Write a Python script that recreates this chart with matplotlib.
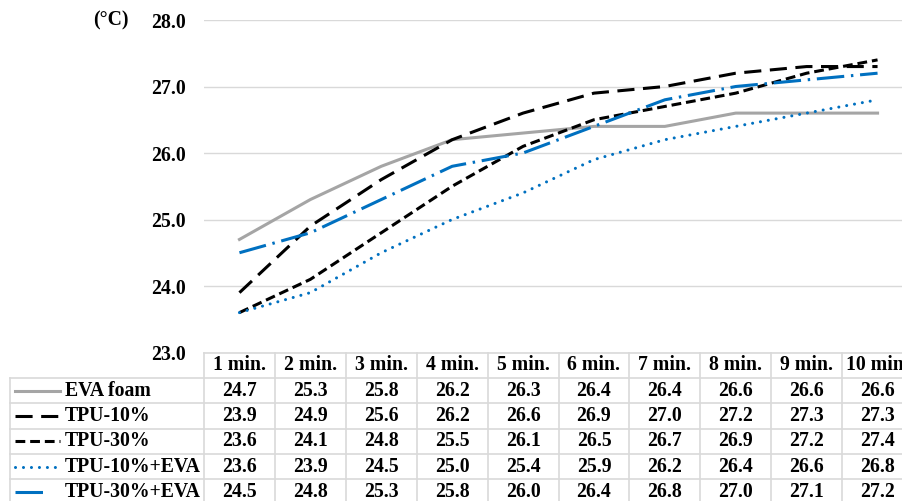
import matplotlib.pyplot as plt
from matplotlib.lines import Line2D

plt.rcParams['font.family'] = ['Liberation Serif', 'DejaVu Serif']
plt.rcParams['font.weight'] = 'bold'

minutes = ['1 min.', '2 min.', '3 min.', '4 min.', '5 min.',
           '6 min.', '7 min.', '8 min.', '9 min.', '10 min.']
series_names = ['EVA foam', 'TPU-10%', 'TPU-30%', 'TPU-10%+EVA', 'TPU-30%+EVA']
eva_foam = [24.7, 25.3, 25.8, 26.2, 26.3, 26.4, 26.4, 26.6, 26.6, 26.6]
tpu10 = [23.9, 24.9, 25.6, 26.2, 26.6, 26.9, 27.0, 27.2, 27.3, 27.3]
tpu30 = [23.6, 24.1, 24.8, 25.5, 26.1, 26.5, 26.7, 26.9, 27.2, 27.4]
tpu10_eva = [23.6, 23.9, 24.5, 25.0, 25.4, 25.9, 26.2, 26.4, 26.6, 26.8]
tpu30_eva = [24.5, 24.8, 25.3, 25.8, 26.0, 26.4, 26.8, 27.0, 27.1, 27.2]
yticks = [23.0, 24.0, 25.0, 26.0, 27.0, 28.0]

fs = 14.2
blue = '#0070C0'
styles = [
    dict(color='#A5A5A5', lw=2.2, ls='-'),
    dict(color='black', lw=2.2, dashes=(5.6, 2.8)),
    dict(color='black', lw=2.2, dashes=(3.2, 1.6)),
    dict(color=blue, lw=2.2, dashes=(0.01, 2.6), dash_capstyle='round'),
    dict(color=blue, lw=2.2, dashes=(9.0, 2.2, 0.8, 2.2)),
]
data = [eva_foam, tpu10, tpu30, tpu10_eva, tpu30_eva]

W, H = 902, 501
fig = plt.figure(figsize=(W / 100, H / 100), dpi=100)
x0, col_w = 204, 70.9
top, base = 20, 352.5
ax = fig.add_axes([x0 / W, 1 - base / H, 10 * col_w / W, (base - top) / H])

xs = list(range(1, 11))
for vals, st in zip(data, styles):
    ax.plot(xs, vals, **st)

ax.set_xlim(0.5, 10.5)
ax.set_ylim(23, 28)
ax.set_yticks(yticks)
ax.set_yticklabels([f'{v:.1f}' for v in yticks], fontsize=fs)
ax.set_xticks([])
ax.tick_params(axis='y', length=0, pad=13)
ax.grid(axis='y', color='#D9D9D9', lw=1)
ax.set_axisbelow(True)
for s in ax.spines.values():
    s.set_visible(False)
ax.text(-0.107, 1.0, '(°C)', transform=ax.transAxes, ha='right', va='center', fontsize=fs)

# data table under the chart
tax = fig.add_axes([0, 0, 1, 1])
tax.set_xlim(0, W)
tax.set_ylim(H, 0)
tax.axis('off')
grid_c = '#D9D9D9'
left = 10
right = x0 + 10 * col_w
head_top, head_bot, row_h = 352.5, 378, 25.3
row_lines = [head_bot + i * row_h for i in range(6)]

# horizontal lines
tax.plot([x0, right], [head_top, head_top], color=grid_c, lw=1.2, clip_on=False)
for yl in row_lines:
    tax.plot([left, right], [yl, yl], color=grid_c, lw=1.2, clip_on=False)
# vertical lines
tax.plot([left, left], [head_bot, H], color=grid_c, lw=1.2)
for i in range(11):
    xl = x0 + i * col_w
    tax.plot([xl, xl], [head_top, H], color=grid_c, lw=1.2, clip_on=False)

for i, m in enumerate(minutes):
    tax.text(x0 + (i + 0.5) * col_w, (head_top + head_bot) / 2, m,
             ha='center', va='center', fontsize=fs)

for r, (name, vals, st) in enumerate(zip(series_names, data, styles)):
    yc = head_bot + (r + 0.5) * row_h
    key_end = 47 if r == 4 else 60
    tax.add_line(Line2D([15, key_end], [yc, yc], **st))
    tax.text(65, yc, name, ha='left', va='center', fontsize=fs)
    for i, v in enumerate(vals):
        tax.text(x0 + (i + 0.5) * col_w, yc, f'{v:.1f}',
                 ha='center', va='center', fontsize=fs)

fig.savefig('out.png', dpi=100)
